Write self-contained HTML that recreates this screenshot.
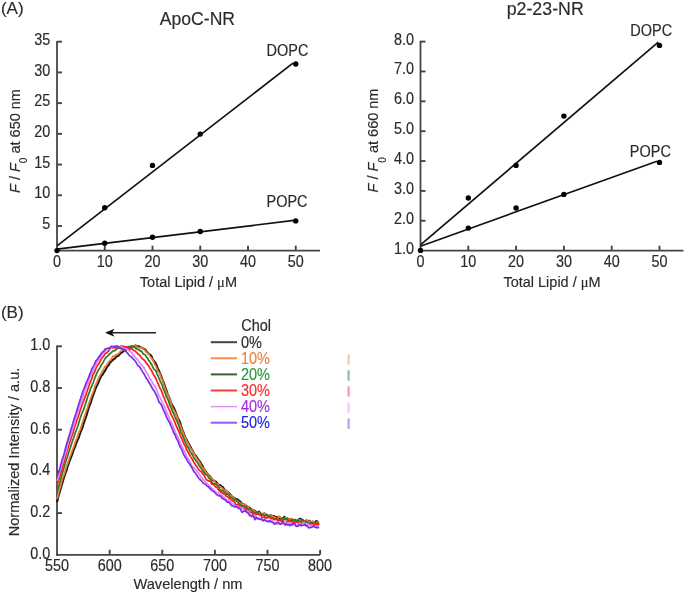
<!DOCTYPE html>
<html><head><meta charset="utf-8"><style>
html,body{margin:0;padding:0;background:#fff;}
svg{display:block;filter:blur(0.4px);}
text{font-family:"Liberation Sans", sans-serif;stroke-width:0.15px;}
</style></head><body>
<svg width="685" height="593" viewBox="0 0 685 593">
<rect width="685" height="593" fill="#fff"/>
<line x1="57.00" y1="40.90" x2="57.00" y2="251.60" stroke="#454545" stroke-width="1.8"/>
<line x1="56.10" y1="250.70" x2="320.00" y2="250.70" stroke="#454545" stroke-width="1.8"/>
<line x1="57.00" y1="225.99" x2="62.00" y2="225.99" stroke="#454545" stroke-width="1.9"/>
<text transform="translate(50.30,229.19) scale(1,1.09)" font-size="14.4" text-anchor="end" fill="#2b2b2b" stroke="#2b2b2b" >5</text>
<line x1="57.00" y1="195.27" x2="62.00" y2="195.27" stroke="#454545" stroke-width="1.9"/>
<text transform="translate(50.30,198.47) scale(1,1.09)" font-size="14.4" text-anchor="end" fill="#2b2b2b" stroke="#2b2b2b" >10</text>
<line x1="57.00" y1="164.56" x2="62.00" y2="164.56" stroke="#454545" stroke-width="1.9"/>
<text transform="translate(50.30,167.76) scale(1,1.09)" font-size="14.4" text-anchor="end" fill="#2b2b2b" stroke="#2b2b2b" >15</text>
<line x1="57.00" y1="133.84" x2="62.00" y2="133.84" stroke="#454545" stroke-width="1.9"/>
<text transform="translate(50.30,137.04) scale(1,1.09)" font-size="14.4" text-anchor="end" fill="#2b2b2b" stroke="#2b2b2b" >20</text>
<line x1="57.00" y1="103.13" x2="62.00" y2="103.13" stroke="#454545" stroke-width="1.9"/>
<text transform="translate(50.30,106.33) scale(1,1.09)" font-size="14.4" text-anchor="end" fill="#2b2b2b" stroke="#2b2b2b" >25</text>
<line x1="57.00" y1="72.42" x2="62.00" y2="72.42" stroke="#454545" stroke-width="1.9"/>
<text transform="translate(50.30,75.62) scale(1,1.09)" font-size="14.4" text-anchor="end" fill="#2b2b2b" stroke="#2b2b2b" >30</text>
<line x1="57.00" y1="41.70" x2="62.00" y2="41.70" stroke="#454545" stroke-width="1.9"/>
<text transform="translate(50.30,44.90) scale(1,1.09)" font-size="14.4" text-anchor="end" fill="#2b2b2b" stroke="#2b2b2b" >35</text>
<text transform="translate(57.00,266.80) scale(1,1.09)" font-size="14.4" text-anchor="middle" fill="#2b2b2b" stroke="#2b2b2b" >0</text>
<line x1="104.75" y1="250.70" x2="104.75" y2="245.70" stroke="#454545" stroke-width="1.9"/>
<text transform="translate(104.75,266.80) scale(1,1.09)" font-size="14.4" text-anchor="middle" fill="#2b2b2b" stroke="#2b2b2b" >10</text>
<line x1="152.50" y1="250.70" x2="152.50" y2="245.70" stroke="#454545" stroke-width="1.9"/>
<text transform="translate(152.50,266.80) scale(1,1.09)" font-size="14.4" text-anchor="middle" fill="#2b2b2b" stroke="#2b2b2b" >20</text>
<line x1="200.25" y1="250.70" x2="200.25" y2="245.70" stroke="#454545" stroke-width="1.9"/>
<text transform="translate(200.25,266.80) scale(1,1.09)" font-size="14.4" text-anchor="middle" fill="#2b2b2b" stroke="#2b2b2b" >30</text>
<line x1="248.00" y1="250.70" x2="248.00" y2="245.70" stroke="#454545" stroke-width="1.9"/>
<text transform="translate(248.00,266.80) scale(1,1.09)" font-size="14.4" text-anchor="middle" fill="#2b2b2b" stroke="#2b2b2b" >40</text>
<line x1="295.75" y1="250.70" x2="295.75" y2="245.70" stroke="#454545" stroke-width="1.9"/>
<text transform="translate(295.75,266.80) scale(1,1.09)" font-size="14.4" text-anchor="middle" fill="#2b2b2b" stroke="#2b2b2b" >50</text>
<line x1="57.00" y1="245.80" x2="293.00" y2="63.20" stroke="#111" stroke-width="1.7"/>
<line x1="57.00" y1="249.20" x2="294.00" y2="220.40" stroke="#111" stroke-width="1.7"/>
<circle cx="57.00" cy="250.60" r="2.7" fill="#000"/>
<circle cx="104.75" cy="207.70" r="2.7" fill="#000"/>
<circle cx="152.50" cy="165.40" r="2.7" fill="#000"/>
<circle cx="200.25" cy="134.10" r="2.7" fill="#000"/>
<circle cx="295.75" cy="64.00" r="2.7" fill="#000"/>
<circle cx="104.75" cy="243.30" r="2.7" fill="#000"/>
<circle cx="152.50" cy="237.30" r="2.7" fill="#000"/>
<circle cx="200.25" cy="231.50" r="2.7" fill="#000"/>
<circle cx="295.75" cy="220.90" r="2.7" fill="#000"/>
<text transform="translate(287.50,55.70) scale(1,1.09)" font-size="14.5" text-anchor="middle" fill="#2b2b2b" stroke="#2b2b2b" >DOPC</text>
<text transform="translate(287.00,207.30) scale(1,1.09)" font-size="14.5" text-anchor="middle" fill="#2b2b2b" stroke="#2b2b2b" >POPC</text>
<text transform="translate(197.40,25.10) scale(1,1.0)" font-size="17.6" text-anchor="middle" fill="#2b2b2b" stroke="#2b2b2b" >ApoC-NR</text>
<text transform="translate(20.0,141) rotate(-90) scale(1,1.05)" font-size="14.5" text-anchor="middle" fill="#2b2b2b" stroke="#2b2b2b"><tspan font-style="italic">F</tspan> / <tspan font-style="italic">F</tspan><tspan font-size="10" dy="7">0</tspan><tspan dy="-7"> at 650 nm</tspan></text>
<text transform="translate(188.40,286.70) scale(1,1.02)" font-size="14.5" text-anchor="middle" fill="#2b2b2b" stroke="#2b2b2b" >Total Lipid / <tspan font-family="Liberation Serif">μ</tspan>M</text>
<line x1="420.50" y1="40.80" x2="420.50" y2="251.60" stroke="#454545" stroke-width="1.8"/>
<line x1="419.60" y1="250.70" x2="683.50" y2="250.70" stroke="#454545" stroke-width="1.8"/>
<text transform="translate(414.00,253.62) scale(1,1.09)" font-size="14.4" text-anchor="end" fill="#2b2b2b" stroke="#2b2b2b" >1.0</text>
<line x1="420.50" y1="220.76" x2="425.50" y2="220.76" stroke="#454545" stroke-width="1.9"/>
<text transform="translate(414.00,223.76) scale(1,1.09)" font-size="14.4" text-anchor="end" fill="#2b2b2b" stroke="#2b2b2b" >2.0</text>
<line x1="420.50" y1="190.90" x2="425.50" y2="190.90" stroke="#454545" stroke-width="1.9"/>
<text transform="translate(414.00,193.90) scale(1,1.09)" font-size="14.4" text-anchor="end" fill="#2b2b2b" stroke="#2b2b2b" >3.0</text>
<line x1="420.50" y1="161.04" x2="425.50" y2="161.04" stroke="#454545" stroke-width="1.9"/>
<text transform="translate(414.00,164.04) scale(1,1.09)" font-size="14.4" text-anchor="end" fill="#2b2b2b" stroke="#2b2b2b" >4.0</text>
<line x1="420.50" y1="131.18" x2="425.50" y2="131.18" stroke="#454545" stroke-width="1.9"/>
<text transform="translate(414.00,134.18) scale(1,1.09)" font-size="14.4" text-anchor="end" fill="#2b2b2b" stroke="#2b2b2b" >5.0</text>
<line x1="420.50" y1="101.32" x2="425.50" y2="101.32" stroke="#454545" stroke-width="1.9"/>
<text transform="translate(414.00,104.32) scale(1,1.09)" font-size="14.4" text-anchor="end" fill="#2b2b2b" stroke="#2b2b2b" >6.0</text>
<line x1="420.50" y1="71.46" x2="425.50" y2="71.46" stroke="#454545" stroke-width="1.9"/>
<text transform="translate(414.00,74.46) scale(1,1.09)" font-size="14.4" text-anchor="end" fill="#2b2b2b" stroke="#2b2b2b" >7.0</text>
<line x1="420.50" y1="41.60" x2="425.50" y2="41.60" stroke="#454545" stroke-width="1.9"/>
<text transform="translate(414.00,44.60) scale(1,1.09)" font-size="14.4" text-anchor="end" fill="#2b2b2b" stroke="#2b2b2b" >8.0</text>
<text transform="translate(420.50,266.80) scale(1,1.09)" font-size="14.4" text-anchor="middle" fill="#2b2b2b" stroke="#2b2b2b" >0</text>
<line x1="468.30" y1="250.70" x2="468.30" y2="245.70" stroke="#454545" stroke-width="1.9"/>
<text transform="translate(468.30,266.80) scale(1,1.09)" font-size="14.4" text-anchor="middle" fill="#2b2b2b" stroke="#2b2b2b" >10</text>
<line x1="516.10" y1="250.70" x2="516.10" y2="245.70" stroke="#454545" stroke-width="1.9"/>
<text transform="translate(516.10,266.80) scale(1,1.09)" font-size="14.4" text-anchor="middle" fill="#2b2b2b" stroke="#2b2b2b" >20</text>
<line x1="563.90" y1="250.70" x2="563.90" y2="245.70" stroke="#454545" stroke-width="1.9"/>
<text transform="translate(563.90,266.80) scale(1,1.09)" font-size="14.4" text-anchor="middle" fill="#2b2b2b" stroke="#2b2b2b" >30</text>
<line x1="611.70" y1="250.70" x2="611.70" y2="245.70" stroke="#454545" stroke-width="1.9"/>
<text transform="translate(611.70,266.80) scale(1,1.09)" font-size="14.4" text-anchor="middle" fill="#2b2b2b" stroke="#2b2b2b" >40</text>
<line x1="659.50" y1="250.70" x2="659.50" y2="245.70" stroke="#454545" stroke-width="1.9"/>
<text transform="translate(659.50,266.80) scale(1,1.09)" font-size="14.4" text-anchor="middle" fill="#2b2b2b" stroke="#2b2b2b" >50</text>
<line x1="420.50" y1="244.90" x2="658.30" y2="42.10" stroke="#111" stroke-width="1.7"/>
<line x1="420.50" y1="246.20" x2="657.00" y2="161.20" stroke="#111" stroke-width="1.7"/>
<circle cx="420.50" cy="250.40" r="2.7" fill="#000"/>
<circle cx="468.30" cy="198.00" r="2.7" fill="#000"/>
<circle cx="516.10" cy="165.40" r="2.7" fill="#000"/>
<circle cx="563.90" cy="116.10" r="2.7" fill="#000"/>
<circle cx="659.50" cy="45.40" r="2.7" fill="#000"/>
<circle cx="468.30" cy="228.10" r="2.7" fill="#000"/>
<circle cx="516.10" cy="208.00" r="2.7" fill="#000"/>
<circle cx="563.90" cy="194.40" r="2.7" fill="#000"/>
<circle cx="659.50" cy="162.40" r="2.7" fill="#000"/>
<text transform="translate(651.30,36.00) scale(1,1.09)" font-size="14.5" text-anchor="middle" fill="#2b2b2b" stroke="#2b2b2b" >DOPC</text>
<text transform="translate(650.30,156.50) scale(1,1.09)" font-size="14.5" text-anchor="middle" fill="#2b2b2b" stroke="#2b2b2b" >POPC</text>
<text transform="translate(545.20,14.50) scale(1,1.0)" font-size="17.8" text-anchor="middle" fill="#2b2b2b" stroke="#2b2b2b" >p2-23-NR</text>
<text transform="translate(378.3,140.5) rotate(-90) scale(1,1.05)" font-size="14.5" text-anchor="middle" fill="#2b2b2b" stroke="#2b2b2b"><tspan font-style="italic">F</tspan> / <tspan font-style="italic">F</tspan><tspan font-size="10" dy="7">0</tspan><tspan dy="-7"> at 660 nm</tspan></text>
<text transform="translate(552.00,286.70) scale(1,1.02)" font-size="14.5" text-anchor="middle" fill="#2b2b2b" stroke="#2b2b2b" >Total Lipid / <tspan font-family="Liberation Serif">μ</tspan>M</text>
<text transform="translate(0.90,14.20) scale(1,1.0)" font-size="17" text-anchor="start" fill="#2b2b2b" stroke="#2b2b2b" >(A)</text>
<text transform="translate(0.90,317.90) scale(1,1.0)" font-size="17" text-anchor="start" fill="#2b2b2b" stroke="#2b2b2b" >(B)</text>
<line x1="57.00" y1="345.50" x2="57.00" y2="555.70" stroke="#454545" stroke-width="1.8"/>
<line x1="56.10" y1="554.80" x2="320.00" y2="554.80" stroke="#454545" stroke-width="1.8"/>
<text transform="translate(50.20,558.60) scale(1,1.09)" font-size="14.4" text-anchor="end" fill="#2b2b2b" stroke="#2b2b2b" >0.0</text>
<line x1="57.00" y1="513.10" x2="62.00" y2="513.10" stroke="#454545" stroke-width="1.9"/>
<text transform="translate(50.20,516.90) scale(1,1.09)" font-size="14.4" text-anchor="end" fill="#2b2b2b" stroke="#2b2b2b" >0.2</text>
<line x1="57.00" y1="471.40" x2="62.00" y2="471.40" stroke="#454545" stroke-width="1.9"/>
<text transform="translate(50.20,475.20) scale(1,1.09)" font-size="14.4" text-anchor="end" fill="#2b2b2b" stroke="#2b2b2b" >0.4</text>
<line x1="57.00" y1="429.70" x2="62.00" y2="429.70" stroke="#454545" stroke-width="1.9"/>
<text transform="translate(50.20,433.50) scale(1,1.09)" font-size="14.4" text-anchor="end" fill="#2b2b2b" stroke="#2b2b2b" >0.6</text>
<line x1="57.00" y1="388.00" x2="62.00" y2="388.00" stroke="#454545" stroke-width="1.9"/>
<text transform="translate(50.20,391.80) scale(1,1.09)" font-size="14.4" text-anchor="end" fill="#2b2b2b" stroke="#2b2b2b" >0.8</text>
<line x1="57.00" y1="346.30" x2="62.00" y2="346.30" stroke="#454545" stroke-width="1.9"/>
<text transform="translate(50.20,350.10) scale(1,1.09)" font-size="14.4" text-anchor="end" fill="#2b2b2b" stroke="#2b2b2b" >1.0</text>
<text transform="translate(57.10,571.00) scale(1,1.09)" font-size="14.4" text-anchor="middle" fill="#2b2b2b" stroke="#2b2b2b" >550</text>
<line x1="109.70" y1="554.80" x2="109.70" y2="549.80" stroke="#454545" stroke-width="1.9"/>
<text transform="translate(109.70,571.00) scale(1,1.09)" font-size="14.4" text-anchor="middle" fill="#2b2b2b" stroke="#2b2b2b" >600</text>
<line x1="162.30" y1="554.80" x2="162.30" y2="549.80" stroke="#454545" stroke-width="1.9"/>
<text transform="translate(162.30,571.00) scale(1,1.09)" font-size="14.4" text-anchor="middle" fill="#2b2b2b" stroke="#2b2b2b" >650</text>
<line x1="214.90" y1="554.80" x2="214.90" y2="549.80" stroke="#454545" stroke-width="1.9"/>
<text transform="translate(214.90,571.00) scale(1,1.09)" font-size="14.4" text-anchor="middle" fill="#2b2b2b" stroke="#2b2b2b" >700</text>
<line x1="267.50" y1="554.80" x2="267.50" y2="549.80" stroke="#454545" stroke-width="1.9"/>
<text transform="translate(267.50,571.00) scale(1,1.09)" font-size="14.4" text-anchor="middle" fill="#2b2b2b" stroke="#2b2b2b" >750</text>
<line x1="320.10" y1="554.80" x2="320.10" y2="549.80" stroke="#454545" stroke-width="1.9"/>
<text transform="translate(320.10,571.00) scale(1,1.09)" font-size="14.4" text-anchor="middle" fill="#2b2b2b" stroke="#2b2b2b" >800</text>
<text transform="translate(188.00,589.20) scale(1,1.0)" font-size="14.6" text-anchor="middle" fill="#2b2b2b" stroke="#2b2b2b" >Wavelength / nm</text>
<text transform="translate(18.9,452.0) rotate(-90) scale(1,1.05)" font-size="14.6" text-anchor="middle" fill="#2b2b2b" stroke="#2b2b2b">Normalized Intensity / a.u.</text>
<path d="M57.10,502.21 L58.15,497.51 L59.20,493.59 L60.26,490.45 L61.31,486.83 L62.36,483.25 L63.41,479.43 L64.46,476.20 L65.52,472.93 L66.57,470.49 L67.62,466.42 L68.67,463.76 L69.72,460.75 L70.78,458.18 L71.83,455.46 L72.88,452.31 L73.93,449.41 L74.98,447.04 L76.04,444.27 L77.09,441.29 L78.14,439.12 L79.19,436.52 L80.24,433.02 L81.30,430.47 L82.35,428.00 L83.40,424.58 L84.45,421.32 L85.50,418.50 L86.56,415.43 L87.61,411.62 L88.66,408.11 L89.71,405.45 L90.76,402.60 L91.82,399.14 L92.87,396.05 L93.92,393.49 L94.97,390.41 L96.02,387.56 L97.08,385.52 L98.13,383.34 L99.18,380.63 L100.23,378.32 L101.28,376.14 L102.34,375.05 L103.39,373.19 L104.44,371.56 L105.49,370.16 L106.54,367.91 L107.60,366.25 L108.65,365.18 L109.70,363.18 L110.75,362.03 L111.80,361.02 L112.86,359.98 L113.91,358.93 L114.96,358.64 L116.01,357.09 L117.06,356.21 L118.12,356.09 L119.17,354.62 L120.22,353.73 L121.27,352.64 L122.32,352.22 L123.38,351.36 L124.43,350.56 L125.48,350.21 L126.53,349.14 L127.58,348.66 L128.64,348.03 L129.69,347.78 L130.74,346.84 L131.79,346.62 L132.84,346.63 L133.90,346.11 L134.95,345.62 L136.00,345.60 L137.05,346.75 L138.10,346.22 L139.16,346.45 L140.21,347.11 L141.26,347.76 L142.31,347.65 L143.36,348.94 L144.42,349.07 L145.47,349.69 L146.52,351.63 L147.57,352.47 L148.62,353.78 L149.68,354.38 L150.73,355.06 L151.78,356.55 L152.83,359.56 L153.88,361.01 L154.94,362.15 L155.99,363.74 L157.04,366.33 L158.09,369.03 L159.14,371.07 L160.20,373.59 L161.25,376.34 L162.30,379.20 L163.35,381.60 L164.40,384.45 L165.46,387.53 L166.51,390.62 L167.56,393.86 L168.61,396.29 L169.66,398.37 L170.72,401.50 L171.77,404.36 L172.82,405.79 L173.87,408.06 L174.92,409.98 L175.98,413.07 L177.03,415.96 L178.08,418.69 L179.13,420.18 L180.18,422.47 L181.24,426.53 L182.29,429.44 L183.34,431.80 L184.39,434.89 L185.44,437.32 L186.50,439.61 L187.55,441.50 L188.60,443.22 L189.65,445.42 L190.70,447.08 L191.76,449.23 L192.81,450.95 L193.86,453.50 L194.91,454.89 L195.96,455.70 L197.02,457.66 L198.07,459.02 L199.12,460.57 L200.17,461.84 L201.22,463.67 L202.28,465.40 L203.33,467.62 L204.38,469.59 L205.43,471.12 L206.48,472.48 L207.54,474.06 L208.59,475.06 L209.64,475.95 L210.69,476.96 L211.74,478.53 L212.80,480.28 L213.85,480.52 L214.90,481.08 L215.95,481.65 L217.00,482.91 L218.06,484.54 L219.11,485.35 L220.16,485.01 L221.21,486.15 L222.26,486.61 L223.32,487.56 L224.37,489.80 L225.42,490.38 L226.47,491.08 L227.52,491.89 L228.58,492.78 L229.63,493.81 L230.68,494.89 L231.73,496.43 L232.78,496.82 L233.84,497.68 L234.89,498.16 L235.94,499.13 L236.99,499.10 L238.04,499.60 L239.10,500.72 L240.15,501.58 L241.20,502.57 L242.25,503.71 L243.30,504.32 L244.36,505.07 L245.41,505.14 L246.46,505.84 L247.51,506.41 L248.56,508.08 L249.62,507.52 L250.67,509.04 L251.72,509.77 L252.77,509.95 L253.82,510.53 L254.88,510.57 L255.93,511.69 L256.98,512.67 L258.03,512.66 L259.08,511.53 L260.14,512.80 L261.19,514.19 L262.24,514.10 L263.29,514.94 L264.34,513.43 L265.40,515.50 L266.45,514.77 L267.50,515.01 L268.55,516.58 L269.60,515.67 L270.66,515.15 L271.71,515.74 L272.76,516.11 L273.81,515.94 L274.86,516.64 L275.92,516.91 L276.97,517.31 L278.02,517.23 L279.07,518.23 L280.12,517.49 L281.18,518.49 L282.23,519.08 L283.28,517.92 L284.33,516.86 L285.38,517.60 L286.44,518.82 L287.49,518.42 L288.54,519.19 L289.59,519.20 L290.64,519.49 L291.70,521.06 L292.75,519.77 L293.80,520.37 L294.85,520.54 L295.90,521.22 L296.96,521.39 L298.01,520.73 L299.06,519.17 L300.11,518.59 L301.16,519.72 L302.22,519.46 L303.27,520.75 L304.32,522.07 L305.37,520.78 L306.42,520.46 L307.48,521.12 L308.53,520.78 L309.58,520.84 L310.63,522.20 L311.68,522.89 L312.74,522.16 L313.79,522.14 L314.84,522.22 L315.89,521.24 L316.94,521.00 L318.00,522.62 L319.05,522.45" fill="none" stroke="#1a1a1a" stroke-width="2.0" stroke-linejoin="round"/>
<path d="M57.10,498.91 L58.15,494.80 L59.20,490.86 L60.26,487.50 L61.31,483.35 L62.36,479.24 L63.41,476.26 L64.46,473.46 L65.52,469.73 L66.57,466.21 L67.62,463.46 L68.67,460.67 L69.72,457.12 L70.78,454.97 L71.83,451.62 L72.88,448.90 L73.93,446.35 L74.98,442.69 L76.04,440.12 L77.09,437.81 L78.14,434.45 L79.19,431.96 L80.24,429.62 L81.30,426.20 L82.35,422.66 L83.40,419.41 L84.45,416.50 L85.50,413.44 L86.56,410.23 L87.61,407.24 L88.66,403.73 L89.71,400.96 L90.76,397.95 L91.82,395.02 L92.87,392.73 L93.92,389.71 L94.97,386.15 L96.02,383.88 L97.08,381.68 L98.13,379.18 L99.18,377.15 L100.23,374.88 L101.28,373.12 L102.34,371.11 L103.39,369.76 L104.44,367.24 L105.49,366.27 L106.54,365.29 L107.60,363.47 L108.65,362.07 L109.70,360.77 L110.75,359.98 L111.80,358.11 L112.86,356.08 L113.91,356.70 L114.96,355.63 L116.01,354.85 L117.06,354.06 L118.12,353.99 L119.17,353.00 L120.22,351.60 L121.27,350.82 L122.32,349.73 L123.38,349.84 L124.43,348.86 L125.48,347.45 L126.53,348.24 L127.58,348.10 L128.64,347.37 L129.69,346.90 L130.74,346.33 L131.79,346.43 L132.84,346.64 L133.90,346.05 L134.95,345.11 L136.00,345.91 L137.05,347.63 L138.10,347.24 L139.16,347.53 L140.21,347.49 L141.26,348.04 L142.31,347.96 L143.36,348.91 L144.42,349.90 L145.47,351.13 L146.52,352.26 L147.57,353.16 L148.62,354.03 L149.68,355.66 L150.73,357.37 L151.78,358.42 L152.83,360.39 L153.88,362.41 L154.94,364.58 L155.99,366.53 L157.04,368.83 L158.09,371.60 L159.14,372.60 L160.20,374.97 L161.25,377.79 L162.30,380.08 L163.35,382.99 L164.40,386.15 L165.46,389.98 L166.51,392.11 L167.56,394.33 L168.61,396.59 L169.66,399.13 L170.72,402.10 L171.77,405.76 L172.82,408.56 L173.87,409.91 L174.92,412.15 L175.98,414.27 L177.03,417.02 L178.08,419.65 L179.13,422.78 L180.18,424.93 L181.24,427.81 L182.29,430.31 L183.34,432.96 L184.39,435.78 L185.44,438.18 L186.50,440.55 L187.55,442.46 L188.60,444.62 L189.65,446.99 L190.70,448.72 L191.76,449.68 L192.81,451.82 L193.86,453.25 L194.91,455.12 L195.96,457.23 L197.02,458.99 L198.07,460.31 L199.12,461.82 L200.17,463.45 L201.22,465.94 L202.28,467.35 L203.33,468.40 L204.38,469.42 L205.43,472.39 L206.48,472.88 L207.54,474.28 L208.59,475.25 L209.64,476.72 L210.69,477.41 L211.74,477.94 L212.80,479.49 L213.85,480.62 L214.90,481.76 L215.95,483.17 L217.00,483.67 L218.06,484.91 L219.11,486.13 L220.16,486.74 L221.21,487.54 L222.26,488.05 L223.32,489.29 L224.37,490.29 L225.42,490.26 L226.47,491.12 L227.52,491.96 L228.58,493.19 L229.63,494.51 L230.68,495.56 L231.73,496.22 L232.78,496.48 L233.84,497.75 L234.89,499.29 L235.94,499.85 L236.99,501.21 L238.04,501.17 L239.10,502.75 L240.15,503.53 L241.20,503.18 L242.25,504.08 L243.30,505.66 L244.36,504.43 L245.41,504.17 L246.46,506.93 L247.51,505.96 L248.56,507.99 L249.62,508.81 L250.67,509.32 L251.72,510.37 L252.77,509.07 L253.82,509.98 L254.88,511.55 L255.93,512.08 L256.98,513.26 L258.03,512.76 L259.08,512.42 L260.14,514.52 L261.19,514.24 L262.24,513.77 L263.29,513.25 L264.34,513.51 L265.40,515.28 L266.45,515.93 L267.50,515.45 L268.55,516.17 L269.60,516.30 L270.66,515.32 L271.71,515.08 L272.76,516.43 L273.81,517.13 L274.86,517.22 L275.92,518.94 L276.97,518.23 L278.02,518.32 L279.07,516.19 L280.12,517.19 L281.18,518.15 L282.23,519.07 L283.28,520.57 L284.33,518.35 L285.38,517.59 L286.44,519.20 L287.49,518.58 L288.54,518.81 L289.59,520.31 L290.64,518.74 L291.70,518.27 L292.75,519.26 L293.80,519.64 L294.85,519.50 L295.90,521.04 L296.96,520.07 L298.01,519.51 L299.06,520.90 L300.11,519.85 L301.16,520.99 L302.22,522.34 L303.27,521.30 L304.32,521.55 L305.37,521.04 L306.42,521.76 L307.48,520.67 L308.53,521.67 L309.58,521.41 L310.63,522.09 L311.68,521.94 L312.74,521.01 L313.79,521.82 L314.84,522.81 L315.89,523.39 L316.94,521.88 L318.00,522.21 L319.05,523.31" fill="none" stroke="#ee7a2e" stroke-width="1.7" stroke-linejoin="round"/>
<path d="M57.10,492.07 L58.15,488.73 L59.20,485.04 L60.26,481.12 L61.31,476.94 L62.36,473.31 L63.41,470.04 L64.46,465.99 L65.52,462.43 L66.57,459.18 L67.62,455.64 L68.67,452.80 L69.72,449.54 L70.78,446.14 L71.83,443.06 L72.88,439.83 L73.93,437.27 L74.98,433.48 L76.04,431.05 L77.09,428.06 L78.14,425.30 L79.19,421.51 L80.24,418.05 L81.30,415.05 L82.35,412.31 L83.40,410.16 L84.45,406.95 L85.50,403.72 L86.56,400.65 L87.61,396.91 L88.66,394.15 L89.71,391.33 L90.76,388.38 L91.82,386.10 L92.87,383.47 L93.92,380.68 L94.97,377.58 L96.02,375.05 L97.08,372.59 L98.13,370.37 L99.18,369.17 L100.23,367.04 L101.28,364.99 L102.34,363.76 L103.39,361.82 L104.44,359.63 L105.49,358.08 L106.54,356.89 L107.60,356.15 L108.65,355.14 L109.70,353.75 L110.75,353.24 L111.80,352.14 L112.86,351.04 L113.91,350.96 L114.96,350.51 L116.01,349.64 L117.06,348.81 L118.12,348.34 L119.17,348.01 L120.22,347.66 L121.27,348.08 L122.32,347.56 L123.38,346.91 L124.43,347.09 L125.48,347.19 L126.53,347.04 L127.58,346.80 L128.64,346.55 L129.69,346.79 L130.74,346.36 L131.79,346.01 L132.84,346.77 L133.90,346.77 L134.95,347.56 L136.00,348.61 L137.05,348.98 L138.10,349.66 L139.16,349.87 L140.21,351.04 L141.26,351.10 L142.31,352.34 L143.36,354.22 L144.42,354.31 L145.47,355.11 L146.52,357.09 L147.57,358.14 L148.62,360.34 L149.68,361.41 L150.73,363.40 L151.78,364.56 L152.83,367.12 L153.88,369.24 L154.94,369.84 L155.99,371.07 L157.04,374.07 L158.09,376.00 L159.14,378.50 L160.20,381.05 L161.25,383.10 L162.30,385.42 L163.35,388.98 L164.40,391.20 L165.46,394.00 L166.51,397.20 L167.56,398.79 L168.61,401.32 L169.66,404.86 L170.72,406.71 L171.77,409.66 L172.82,412.16 L173.87,414.00 L174.92,416.74 L175.98,419.10 L177.03,421.05 L178.08,423.57 L179.13,426.53 L180.18,430.14 L181.24,432.82 L182.29,434.54 L183.34,437.63 L184.39,439.99 L185.44,442.72 L186.50,444.83 L187.55,447.07 L188.60,448.22 L189.65,450.88 L190.70,452.56 L191.76,454.12 L192.81,455.46 L193.86,457.92 L194.91,459.21 L195.96,460.68 L197.02,461.99 L198.07,463.61 L199.12,465.51 L200.17,466.89 L201.22,468.55 L202.28,469.73 L203.33,471.44 L204.38,473.10 L205.43,474.14 L206.48,474.94 L207.54,475.46 L208.59,477.76 L209.64,478.66 L210.69,479.46 L211.74,482.16 L212.80,483.34 L213.85,483.89 L214.90,483.96 L215.95,483.70 L217.00,485.30 L218.06,486.16 L219.11,487.94 L220.16,490.10 L221.21,490.77 L222.26,490.01 L223.32,491.09 L224.37,492.53 L225.42,492.59 L226.47,494.23 L227.52,493.95 L228.58,494.57 L229.63,496.52 L230.68,497.53 L231.73,497.59 L232.78,498.94 L233.84,499.16 L234.89,500.55 L235.94,500.43 L236.99,501.50 L238.04,502.86 L239.10,503.86 L240.15,504.11 L241.20,506.05 L242.25,505.83 L243.30,506.14 L244.36,506.29 L245.41,507.79 L246.46,506.72 L247.51,508.60 L248.56,509.78 L249.62,508.43 L250.67,508.66 L251.72,510.77 L252.77,512.03 L253.82,512.05 L254.88,512.89 L255.93,512.87 L256.98,511.96 L258.03,513.05 L259.08,513.84 L260.14,514.19 L261.19,514.71 L262.24,514.41 L263.29,514.79 L264.34,516.04 L265.40,515.79 L266.45,514.50 L267.50,516.10 L268.55,516.82 L269.60,515.74 L270.66,517.43 L271.71,518.60 L272.76,517.86 L273.81,518.97 L274.86,518.97 L275.92,518.51 L276.97,519.02 L278.02,519.75 L279.07,519.86 L280.12,519.71 L281.18,518.77 L282.23,520.10 L283.28,519.99 L284.33,518.44 L285.38,519.84 L286.44,518.79 L287.49,518.94 L288.54,520.48 L289.59,521.53 L290.64,520.30 L291.70,519.85 L292.75,519.83 L293.80,520.40 L294.85,519.70 L295.90,519.87 L296.96,521.47 L298.01,520.20 L299.06,521.01 L300.11,521.87 L301.16,521.52 L302.22,519.97 L303.27,520.89 L304.32,523.06 L305.37,522.18 L306.42,522.16 L307.48,522.41 L308.53,522.98 L309.58,523.53 L310.63,522.28 L311.68,523.38 L312.74,523.43 L313.79,523.70 L314.84,523.76 L315.89,522.85 L316.94,523.26 L318.00,524.42 L319.05,524.87" fill="none" stroke="#2b7a2b" stroke-width="1.7" stroke-linejoin="round"/>
<path d="M57.10,485.59 L58.15,481.58 L59.20,478.21 L60.26,474.69 L61.31,471.28 L62.36,467.62 L63.41,463.97 L64.46,460.85 L65.52,456.23 L66.57,453.32 L67.62,449.73 L68.67,445.54 L69.72,442.40 L70.78,439.23 L71.83,436.23 L72.88,433.22 L73.93,429.22 L74.98,425.60 L76.04,422.95 L77.09,419.25 L78.14,416.87 L79.19,413.69 L80.24,410.08 L81.30,407.02 L82.35,403.83 L83.40,401.32 L84.45,398.61 L85.50,395.92 L86.56,392.76 L87.61,389.78 L88.66,386.91 L89.71,383.53 L90.76,381.18 L91.82,378.78 L92.87,374.81 L93.92,373.36 L94.97,371.24 L96.02,368.02 L97.08,365.90 L98.13,364.87 L99.18,363.27 L100.23,361.15 L101.28,358.73 L102.34,357.65 L103.39,356.51 L104.44,354.84 L105.49,353.31 L106.54,353.09 L107.60,352.01 L108.65,351.14 L109.70,349.02 L110.75,348.23 L111.80,348.09 L112.86,348.01 L113.91,347.56 L114.96,348.03 L116.01,347.13 L117.06,347.33 L118.12,347.23 L119.17,346.82 L120.22,346.47 L121.27,346.03 L122.32,345.98 L123.38,346.36 L124.43,346.90 L125.48,346.63 L126.53,346.97 L127.58,347.03 L128.64,348.32 L129.69,349.50 L130.74,349.00 L131.79,348.44 L132.84,349.57 L133.90,350.57 L134.95,350.96 L136.00,351.82 L137.05,352.82 L138.10,354.09 L139.16,354.91 L140.21,355.93 L141.26,357.42 L142.31,358.75 L143.36,359.45 L144.42,360.33 L145.47,361.77 L146.52,363.30 L147.57,364.62 L148.62,365.54 L149.68,367.87 L150.73,369.37 L151.78,370.86 L152.83,373.37 L153.88,375.27 L154.94,376.84 L155.99,378.66 L157.04,381.26 L158.09,383.55 L159.14,386.00 L160.20,388.66 L161.25,390.31 L162.30,393.23 L163.35,396.29 L164.40,398.44 L165.46,401.44 L166.51,403.75 L167.56,405.91 L168.61,408.58 L169.66,410.59 L170.72,413.78 L171.77,415.71 L172.82,417.77 L173.87,419.81 L174.92,422.40 L175.98,425.13 L177.03,427.68 L178.08,430.09 L179.13,432.26 L180.18,435.29 L181.24,437.53 L182.29,440.13 L183.34,442.53 L184.39,444.87 L185.44,446.46 L186.50,449.49 L187.55,451.43 L188.60,453.27 L189.65,455.02 L190.70,456.84 L191.76,458.52 L192.81,460.15 L193.86,462.58 L194.91,463.84 L195.96,465.60 L197.02,466.73 L198.07,468.64 L199.12,470.04 L200.17,470.94 L201.22,471.57 L202.28,473.21 L203.33,474.63 L204.38,475.62 L205.43,478.05 L206.48,479.89 L207.54,480.29 L208.59,480.96 L209.64,481.14 L210.69,481.91 L211.74,484.16 L212.80,483.66 L213.85,484.73 L214.90,486.17 L215.95,487.16 L217.00,487.29 L218.06,489.19 L219.11,490.51 L220.16,491.26 L221.21,492.59 L222.26,492.70 L223.32,493.57 L224.37,494.22 L225.42,495.12 L226.47,496.38 L227.52,496.37 L228.58,497.89 L229.63,498.23 L230.68,499.85 L231.73,500.02 L232.78,501.08 L233.84,501.60 L234.89,502.77 L235.94,504.99 L236.99,504.92 L238.04,504.40 L239.10,504.82 L240.15,507.21 L241.20,508.56 L242.25,508.22 L243.30,508.20 L244.36,509.10 L245.41,509.65 L246.46,508.94 L247.51,509.20 L248.56,510.23 L249.62,512.01 L250.67,512.08 L251.72,512.87 L252.77,514.02 L253.82,513.02 L254.88,513.83 L255.93,514.56 L256.98,513.69 L258.03,514.29 L259.08,514.67 L260.14,514.85 L261.19,515.89 L262.24,517.77 L263.29,517.50 L264.34,516.86 L265.40,518.21 L266.45,518.10 L267.50,517.77 L268.55,517.16 L269.60,517.42 L270.66,518.19 L271.71,519.17 L272.76,518.75 L273.81,519.20 L274.86,519.75 L275.92,518.98 L276.97,519.80 L278.02,520.77 L279.07,519.78 L280.12,520.66 L281.18,520.74 L282.23,522.17 L283.28,521.61 L284.33,522.23 L285.38,522.68 L286.44,522.85 L287.49,520.26 L288.54,521.44 L289.59,521.47 L290.64,521.01 L291.70,521.83 L292.75,521.95 L293.80,523.16 L294.85,522.43 L295.90,522.58 L296.96,522.09 L298.01,522.55 L299.06,524.03 L300.11,524.62 L301.16,523.81 L302.22,522.41 L303.27,522.46 L304.32,523.05 L305.37,525.21 L306.42,525.92 L307.48,524.44 L308.53,524.01 L309.58,524.14 L310.63,523.64 L311.68,524.21 L312.74,525.20 L313.79,525.11 L314.84,524.40 L315.89,524.48 L316.94,524.38 L318.00,523.15 L319.05,524.93" fill="none" stroke="#ff1a1a" stroke-width="1.7" stroke-linejoin="round"/>
<path d="M57.10,480.80 L58.15,477.92 L59.20,474.30 L60.26,470.40 L61.31,466.83 L62.36,463.47 L63.41,459.69 L64.46,456.28 L65.52,453.55 L66.57,450.12 L67.62,444.44 L68.67,441.02 L69.72,438.08 L70.78,435.28 L71.83,431.51 L72.88,427.31 L73.93,425.15 L74.98,421.04 L76.04,417.08 L77.09,413.94 L78.14,410.60 L79.19,407.49 L80.24,403.69 L81.30,401.78 L82.35,399.01 L83.40,395.25 L84.45,391.79 L85.50,389.29 L86.56,386.25 L87.61,384.07 L88.66,381.54 L89.71,377.88 L90.76,375.03 L91.82,372.73 L92.87,371.22 L93.92,369.41 L94.97,367.21 L96.02,364.68 L97.08,362.32 L98.13,360.60 L99.18,359.54 L100.23,357.45 L101.28,355.90 L102.34,354.54 L103.39,353.35 L104.44,352.23 L105.49,350.94 L106.54,350.14 L107.60,349.41 L108.65,348.97 L109.70,348.04 L110.75,347.81 L111.80,348.02 L112.86,346.86 L113.91,346.57 L114.96,346.07 L116.01,346.31 L117.06,346.33 L118.12,346.28 L119.17,346.50 L120.22,347.01 L121.27,347.54 L122.32,346.81 L123.38,348.18 L124.43,348.37 L125.48,348.43 L126.53,349.06 L127.58,349.69 L128.64,350.31 L129.69,351.02 L130.74,352.05 L131.79,352.38 L132.84,354.68 L133.90,355.65 L134.95,356.94 L136.00,358.18 L137.05,358.99 L138.10,359.91 L139.16,362.02 L140.21,363.46 L141.26,364.31 L142.31,365.61 L143.36,366.64 L144.42,368.52 L145.47,370.58 L146.52,372.47 L147.57,374.02 L148.62,375.97 L149.68,378.15 L150.73,379.53 L151.78,381.35 L152.83,383.31 L153.88,385.16 L154.94,386.38 L155.99,388.61 L157.04,390.80 L158.09,393.56 L159.14,395.95 L160.20,397.82 L161.25,399.82 L162.30,402.27 L163.35,404.45 L164.40,406.35 L165.46,408.98 L166.51,411.87 L167.56,414.16 L168.61,416.52 L169.66,418.70 L170.72,421.48 L171.77,423.51 L172.82,425.51 L173.87,428.16 L174.92,430.96 L175.98,433.23 L177.03,435.25 L178.08,437.38 L179.13,439.66 L180.18,442.49 L181.24,445.15 L182.29,446.53 L183.34,449.00 L184.39,451.27 L185.44,453.55 L186.50,456.11 L187.55,457.86 L188.60,459.39 L189.65,460.92 L190.70,463.27 L191.76,466.06 L192.81,466.70 L193.86,467.66 L194.91,468.75 L195.96,470.18 L197.02,470.98 L198.07,472.61 L199.12,474.07 L200.17,475.62 L201.22,477.83 L202.28,478.17 L203.33,479.33 L204.38,480.94 L205.43,481.60 L206.48,482.72 L207.54,484.18 L208.59,485.11 L209.64,486.06 L210.69,486.84 L211.74,487.93 L212.80,488.67 L213.85,490.52 L214.90,490.96 L215.95,492.21 L217.00,492.46 L218.06,492.68 L219.11,493.64 L220.16,494.53 L221.21,495.07 L222.26,495.35 L223.32,497.10 L224.37,497.40 L225.42,499.05 L226.47,499.47 L227.52,499.89 L228.58,500.98 L229.63,501.23 L230.68,501.79 L231.73,503.33 L232.78,503.72 L233.84,504.64 L234.89,505.99 L235.94,506.26 L236.99,506.77 L238.04,506.22 L239.10,507.86 L240.15,507.22 L241.20,508.80 L242.25,508.08 L243.30,509.42 L244.36,510.28 L245.41,510.59 L246.46,510.96 L247.51,511.05 L248.56,511.62 L249.62,513.93 L250.67,515.78 L251.72,517.19 L252.77,515.90 L253.82,515.12 L254.88,515.74 L255.93,516.53 L256.98,517.42 L258.03,518.07 L259.08,518.11 L260.14,518.24 L261.19,519.78 L262.24,518.86 L263.29,520.29 L264.34,520.01 L265.40,520.41 L266.45,520.68 L267.50,521.46 L268.55,521.76 L269.60,521.42 L270.66,521.57 L271.71,519.58 L272.76,521.53 L273.81,522.39 L274.86,522.62 L275.92,523.43 L276.97,524.42 L278.02,522.95 L279.07,522.58 L280.12,523.82 L281.18,523.26 L282.23,523.90 L283.28,523.22 L284.33,522.80 L285.38,522.74 L286.44,523.06 L287.49,523.81 L288.54,523.06 L289.59,523.80 L290.64,523.42 L291.70,523.26 L292.75,524.26 L293.80,524.97 L294.85,523.99 L295.90,525.10 L296.96,525.33 L298.01,525.20 L299.06,523.93 L300.11,524.84 L301.16,526.25 L302.22,524.07 L303.27,522.62 L304.32,523.10 L305.37,525.03 L306.42,524.94 L307.48,524.52 L308.53,524.38 L309.58,525.31 L310.63,526.16 L311.68,525.02 L312.74,525.27 L313.79,526.83 L314.84,526.42 L315.89,525.94 L316.94,526.12 L318.00,525.87 L319.05,525.87" fill="none" stroke="#dc88ee" stroke-width="1.7" stroke-linejoin="round"/>
<path d="M57.10,476.17 L58.15,473.50 L59.20,470.71 L60.26,466.61 L61.31,462.61 L62.36,458.92 L63.41,456.04 L64.46,452.39 L65.52,448.04 L66.57,444.25 L67.62,440.92 L68.67,437.26 L69.72,434.02 L70.78,430.07 L71.83,426.86 L72.88,423.14 L73.93,419.58 L74.98,416.40 L76.04,413.57 L77.09,409.73 L78.14,405.87 L79.19,402.72 L80.24,399.64 L81.30,396.20 L82.35,392.96 L83.40,390.04 L84.45,387.73 L85.50,384.75 L86.56,382.12 L87.61,379.77 L88.66,377.37 L89.71,374.43 L90.76,371.96 L91.82,368.68 L92.87,367.15 L93.92,365.30 L94.97,363.19 L96.02,360.62 L97.08,359.72 L98.13,358.03 L99.18,356.60 L100.23,354.95 L101.28,353.44 L102.34,352.00 L103.39,351.72 L104.44,350.26 L105.49,348.80 L106.54,348.76 L107.60,348.23 L108.65,348.11 L109.70,348.23 L110.75,346.90 L111.80,346.07 L112.86,346.61 L113.91,347.08 L114.96,346.40 L116.01,346.34 L117.06,346.20 L118.12,346.55 L119.17,347.36 L120.22,347.84 L121.27,348.95 L122.32,348.64 L123.38,349.35 L124.43,349.81 L125.48,350.66 L126.53,352.08 L127.58,353.13 L128.64,354.51 L129.69,355.94 L130.74,356.32 L131.79,357.30 L132.84,358.82 L133.90,359.49 L134.95,360.84 L136.00,362.19 L137.05,364.12 L138.10,365.83 L139.16,366.36 L140.21,367.76 L141.26,369.64 L142.31,371.40 L143.36,372.97 L144.42,374.59 L145.47,376.55 L146.52,378.68 L147.57,379.63 L148.62,382.01 L149.68,383.56 L150.73,385.26 L151.78,387.08 L152.83,389.47 L153.88,390.49 L154.94,392.44 L155.99,394.41 L157.04,396.42 L158.09,399.49 L159.14,402.41 L160.20,403.23 L161.25,404.68 L162.30,406.97 L163.35,409.83 L164.40,411.98 L165.46,414.20 L166.51,417.18 L167.56,419.17 L168.61,421.15 L169.66,422.75 L170.72,425.60 L171.77,427.37 L172.82,430.31 L173.87,433.16 L174.92,434.35 L175.98,437.53 L177.03,439.40 L178.08,441.33 L179.13,444.51 L180.18,447.07 L181.24,448.52 L182.29,451.04 L183.34,453.79 L184.39,455.89 L185.44,457.53 L186.50,459.01 L187.55,461.25 L188.60,462.74 L189.65,464.06 L190.70,465.81 L191.76,467.42 L192.81,469.30 L193.86,471.72 L194.91,472.32 L195.96,473.86 L197.02,475.52 L198.07,477.27 L199.12,478.74 L200.17,479.83 L201.22,480.49 L202.28,482.03 L203.33,483.03 L204.38,483.80 L205.43,484.24 L206.48,485.57 L207.54,486.40 L208.59,486.76 L209.64,488.26 L210.69,489.04 L211.74,490.51 L212.80,490.87 L213.85,491.65 L214.90,492.54 L215.95,493.73 L217.00,494.80 L218.06,495.29 L219.11,495.90 L220.16,495.93 L221.21,496.81 L222.26,498.44 L223.32,498.60 L224.37,499.59 L225.42,500.07 L226.47,501.28 L227.52,502.34 L228.58,501.96 L229.63,502.88 L230.68,504.58 L231.73,505.66 L232.78,505.81 L233.84,506.60 L234.89,506.83 L235.94,506.58 L236.99,506.71 L238.04,508.39 L239.10,508.00 L240.15,508.79 L241.20,510.96 L242.25,512.41 L243.30,511.25 L244.36,511.30 L245.41,510.69 L246.46,511.81 L247.51,512.89 L248.56,513.28 L249.62,515.64 L250.67,515.70 L251.72,516.01 L252.77,515.15 L253.82,516.83 L254.88,519.63 L255.93,517.51 L256.98,518.69 L258.03,518.33 L259.08,519.30 L260.14,519.23 L261.19,519.20 L262.24,520.01 L263.29,520.92 L264.34,519.69 L265.40,520.45 L266.45,521.10 L267.50,521.06 L268.55,521.76 L269.60,520.54 L270.66,521.66 L271.71,522.04 L272.76,522.45 L273.81,523.69 L274.86,524.06 L275.92,523.13 L276.97,522.77 L278.02,522.26 L279.07,523.21 L280.12,524.46 L281.18,523.51 L282.23,523.08 L283.28,523.12 L284.33,524.00 L285.38,525.06 L286.44,523.84 L287.49,524.82 L288.54,524.55 L289.59,525.74 L290.64,524.58 L291.70,525.18 L292.75,523.91 L293.80,523.22 L294.85,524.06 L295.90,526.07 L296.96,526.36 L298.01,526.07 L299.06,524.96 L300.11,525.05 L301.16,525.31 L302.22,525.25 L303.27,525.08 L304.32,524.88 L305.37,524.42 L306.42,525.68 L307.48,526.22 L308.53,527.84 L309.58,527.76 L310.63,527.36 L311.68,527.51 L312.74,526.45 L313.79,525.93 L314.84,527.12 L315.89,527.55 L316.94,527.62 L318.00,527.39 L319.05,527.89" fill="none" stroke="#7b2cf0" stroke-width="1.7" stroke-linejoin="round"/>
<path d="M156,332.8 L112,332.8" stroke="#222" stroke-width="1.5"/>
<path d="M105,332.8 L114.5,328.8 L112,332.8 L114.5,336.8 Z" fill="#111"/>
<text transform="translate(241.20,330.60) scale(1,1.09)" font-size="14.5" text-anchor="start" fill="#2b2b2b" stroke="#2b2b2b" >Chol</text>
<line x1="210.80" y1="342.20" x2="237.00" y2="342.20" stroke="#444444" stroke-width="2.0"/>
<text transform="translate(240.90,347.95) scale(1,1.09)" font-size="14.5" text-anchor="start" fill="#2b2b2b" stroke="#2b2b2b" >0%</text>
<line x1="210.80" y1="358.30" x2="237.00" y2="358.30" stroke="#f3904f" stroke-width="2.0"/>
<text transform="translate(240.90,364.05) scale(1,1.09)" font-size="14.5" text-anchor="start" fill="#f08040" stroke="#f08040" >10%</text>
<line x1="210.80" y1="374.40" x2="237.00" y2="374.40" stroke="#2d6b2d" stroke-width="2.0"/>
<text transform="translate(240.90,380.15) scale(1,1.09)" font-size="14.5" text-anchor="start" fill="#2a9a3a" stroke="#2a9a3a" >20%</text>
<line x1="210.80" y1="390.50" x2="237.00" y2="390.50" stroke="#ff3a3a" stroke-width="2.0"/>
<text transform="translate(240.90,396.25) scale(1,1.09)" font-size="14.5" text-anchor="start" fill="#ff2a2a" stroke="#ff2a2a" >30%</text>
<line x1="210.80" y1="406.60" x2="237.00" y2="406.60" stroke="#e08ef0" stroke-width="1.4"/>
<text transform="translate(240.90,412.35) scale(1,1.09)" font-size="14.5" text-anchor="start" fill="#a02ee0" stroke="#a02ee0" >40%</text>
<line x1="210.80" y1="422.70" x2="237.00" y2="422.70" stroke="#9358ee" stroke-width="2.0"/>
<text transform="translate(240.90,428.45) scale(1,1.09)" font-size="14.5" text-anchor="start" fill="#2424e0" stroke="#2424e0" >50%</text>
<rect x="347.4" y="354.30" width="2.4" height="10.4" fill="#fcc9b3"/>
<rect x="347.4" y="370.33" width="2.4" height="10.4" fill="#97c2ae"/>
<rect x="347.4" y="386.36" width="2.4" height="10.4" fill="#fb9fb0"/>
<rect x="347.4" y="402.39" width="2.4" height="10.4" fill="#f0cdf7"/>
<rect x="347.4" y="418.42" width="2.4" height="10.4" fill="#bba6f4"/>
</svg>
</body></html>
